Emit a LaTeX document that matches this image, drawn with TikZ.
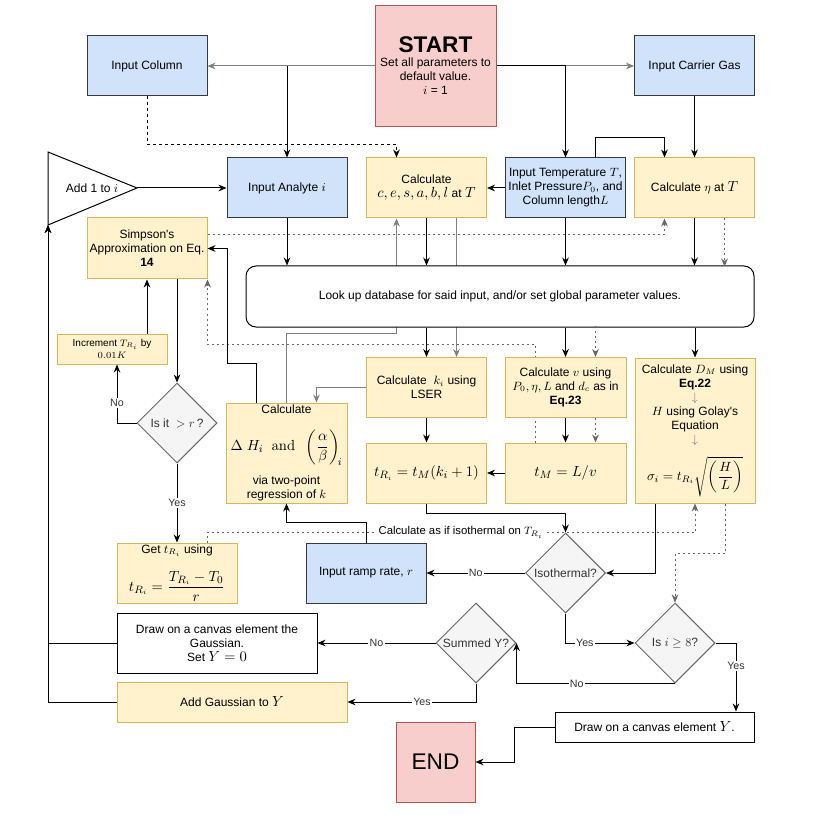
\documentclass[tikz,border=0pt]{standalone}
\usepackage[no-math]{fontspec}
\setmainfont{Liberation Sans}
\usepackage{amsmath}
\usepackage{xcolor}
\definecolor{startFill}{HTML}{F8CECC}
\definecolor{startLine}{HTML}{B85450}
\definecolor{inputFill}{HTML}{D0E3FA}
\definecolor{inputLine}{HTML}{36393D}
\definecolor{calcFill}{HTML}{FFF2CC}
\definecolor{calcLine}{HTML}{D6B656}
\definecolor{checkFill}{HTML}{F5F5F5}
\definecolor{checkLine}{HTML}{666666}
\definecolor{checkText}{HTML}{333333}
\definecolor{lineGray}{HTML}{808080}
\usetikzlibrary{%
    shapes.geometric,
    arrows.meta,
    positioning,
    backgrounds,
    calc
}
\newcommand{\bigmath}[1]{{\fontsize{11}{13}\selectfont$#1$}}

\begin{document}
\begin{tikzpicture}[x=0.75pt, y=-0.75pt,
                font=\fontsize{9}{10.5}\selectfont,
                stage/.style={rectangle, minimum width=90pt, minimum height=45pt, inner sep=1pt, align=center, line width=0.75pt, draw},
                terminal/.style={stage, fill=startFill, draw=startLine},
                entry/.style={stage, fill=inputFill, draw=inputLine},
                compute/.style={stage, fill=calcFill, draw=calcLine},
                canvas/.style={stage, fill=white, draw=black},
                check/.style={diamond, aspect=1, minimum width=60pt, minimum height=60pt, inner sep=0pt, fill=checkFill, draw=checkLine, text=checkText, line width=0.75pt},
                flow/.style={draw, line width=0.75pt, -{Stealth[length=6pt, width=5pt]}},
                gray_flow/.style={flow, draw=lineGray},
                dotted_flow/.style={flow, draw=checkLine, dash pattern=on 1.5pt off 2.25pt},
                dashed_flow/.style={flow, dash pattern=on 2.25pt off 2.25pt},
                answer/.style={fill=white, inner sep=1pt, text=checkText, font=\fontsize{8}{9}\selectfont}
            ]

            \begin{scope}[on background layer]
                \fill[white] (0,0) rectangle (834,816);
            \end{scope}
            \useasboundingbox (0,0) rectangle (834,816);

            \node (start) at (435.5,66) [terminal, minimum width=90.75pt, minimum height=90.75pt] {{\fontsize{17}{21}\selectfont\bfseries START}\\ Set all parameters to\\ default value.\\ $i$ = 1};
            \node (incol) at (147,66) [entry] {Input Column};
            \node (carrier) at (694.5,66) [entry] {Input Carrier Gas};

            \draw[line width=0.75pt, fill=white] (48,152) -- (137,188) -- (48,225) -- cycle;
            \node (add1) at (92,188) {Add 1 to $i$};
            \coordinate (add1tip) at (137,188);
            \coordinate (add1base) at (48,225);

            \node (analyte) at (287,188) [entry] {Input Analyte $i$};
            \node (calcabc) at (426.5,188) [compute] {Calculate\\ \bigmath{c,e,s,a,b,l} at \bigmath{T}};
            \node (inptemp) at (565.5,188) [entry] {Input Temperature $T$,\\ Inlet Pressure$P_0$, and\\ Column length$L$};
            \node (calceta) at (694.5,188) [compute] {Calculate $\eta$ at \bigmath{T}};

            \node (simpson) at (147,248.5) [compute, minimum height=45.75pt] {Simpson\textquotesingle s\\ Approximation on Eq.\\ \textbf{14}};
            \node (lookup) at (500,296.5) [canvas, minimum width=381pt, minimum height=45.75pt, rounded corners=7.5pt] {Look up database for said input, and/or set global parameter values.};
            \node (incr) at (112,349) [compute, minimum width=82.5pt, minimum height=22.5pt, font=\fontsize{7.5}{9.5}\selectfont] {Increment $T_{R_i}$ by\\ $0.01K$};
            \node (isit) at (177,423) [check] {Is it $\ >r\,$?};

            \node (calcdh) at (286.5,453) [compute, minimum width=90.75pt, minimum height=75pt] {Calculate\\[11pt] \bigmath{\Delta\ H_i\ \ \mathrm{and}\ \ \left(\dfrac{\alpha}{\beta}\right)_{\!i}}\\[7pt] via two-point\\ regression of $k$};
            \node (calck) at (426.5,387.5) [compute] {Calculate \ $k_i$ using\\ LSER};
            \node (calcv) at (565.5,387.5) [compute, minimum width=90.75pt] {Calculate $v$ using\\ $P_0,\eta,L$ and $d_c$ as in\\ \textbf{Eq.23}};
            \node (calcdm) at (695,430.5) [compute, minimum height=108.75pt] {Calculate $D_M$ using\\ \textbf{Eq.22}\\ \textcolor{lineGray}{$\downarrow$}\\ $H$ using Golay\textquotesingle s\\ Equation\\ \textcolor{lineGray}{$\downarrow$}\\[7pt] {\fontsize{10}{12}\selectfont$\sigma_i = t_{R_i}\sqrt{\left(\dfrac{H}{L}\right)}$}};
            \node (tri) at (426.5,473) [compute] {\bigmath{t_{R_i} = t_M(k_i+1)}};
            \node (tm) at (565.5,473) [compute, minimum width=90.75pt] {\bigmath{t_M = L/v}};

            \node (gettr) at (177,573) [compute] {Get $t_{R_i}$ using\\[10pt] \bigmath{t_{R_i} = \dfrac{T_{R_i}-T_0}{r}}};
            \node (ramp) at (366,573) [entry] {Input ramp rate, $r$};
            \node (isoth) at (565.5,573) [check] {Isothermal?};

            \node (summed) at (476,643) [check] {Summed Y?};
            \node (iseight) at (675,643) [check] {Is $i\geq 8$?};
            \node (drawgauss) at (217,643) [canvas, minimum width=150pt] {Draw on a canvas element the\\ Gaussian.\\ Set \bigmath{Y=0}};
            \node (addgauss) at (232,702) [compute, minimum width=172.5pt, minimum height=30pt] {Add Gaussian to \bigmath{Y}};
            \node (endn) at (435.5,762) [terminal, minimum width=59.25pt, minimum height=60pt] {\fontsize{17}{21}\selectfont END};
            \node (drawy) at (654.5,727) [canvas, minimum width=149.25pt, minimum height=22.5pt] {Draw on a canvas element \bigmath{Y}.};

            \draw[flow] (start.west) -| (analyte.north);
            \draw[gray_flow] (start.west) -- (incol.east);
            \draw[gray_flow] (start.east) -- (carrier.west);
            \draw[flow] (start.east) -| (inptemp.north);
            \draw[dashed_flow] (incol.south) -- ++(0,48) -| ($(calcabc.north)+(-30,0)$);
            \draw[flow] (add1tip) -- (analyte.west);
            \draw[flow] (inptemp.west) -- (calcabc.east);
            \draw[flow] ($(inptemp.north)+(30,0)$) -- ++(0,-20) -| ($(calceta.north)+(-30,0)$);
            \draw[flow] (carrier.south) -- (calceta.north);

            \draw[flow] (analyte.south) -- (analyte.south |- lookup.north);
            \draw[flow] (calcabc.south) -- (calcabc.south |- lookup.north);
            \draw[flow] (inptemp.south) -- (inptemp.south |- lookup.north);
            \draw[flow] (calceta.south) -- (calceta.south |- lookup.north);
            \draw[dotted_flow] ($(calceta.south)+(30,0)$) -- ($(calceta.south)+(30,48)$);
            \draw[dotted_flow] ($(simpson.east)+(0,-14)$) -| ($(calceta.south)+(-30,0)$);

            \begin{scope}[on background layer]
                \draw[gray_flow] (calcdh.north) -- ++(0,-69) -| ($(calcabc.south)+(-30,0)$);
                \draw[gray_flow] ($(calcabc.south)+(30,0)$) -- ($(calck.north)+(30,0)$);
                \draw[dotted_flow] ($(tm.north)+(-30,0)$) |- ($(simpson.south east)+(0,65)$) -- (simpson.south east);
            \end{scope}

            \draw[flow] (lookup.south -| calck.north) -- (calck.north);
            \draw[flow] (lookup.south -| calcv.north) -- (calcv.north);
            \draw[dotted_flow] ($(calcv.north)+(30,-31)$) -- ($(calcv.north)+(30,0)$);
            \draw[flow] (lookup.south -| calcdm.north) -- (calcdm.north);

            \draw[flow] (calcv.south) -- (tm.north);
            \draw[dotted_flow] ($(calcv.south)+(30,0)$) -- ($(tm.north)+(30,0)$);
            \draw[flow] (tm.west) -- (tri.east);
            \draw[flow] (calck.south) -- (tri.north);
            \draw[gray_flow] (calck.west) -| ($(calcdh.north)+(30,0)$);
            \draw[flow] ($(calcdh.north)+(-30,0)$) -- ++(0,-39) -- ++(-29.5,0) |- (simpson.east);

            \draw[flow] ($(simpson.south)+(30,0)$) -- (isit.north);
            \draw[flow] (isit.west) -| node[answer, pos=0.67] {No} ($(incr.south)+(5,0)$);
            \draw[flow] ($(incr.north)+(35,0)$) -- (simpson.south);
            \draw[flow] (isit.south) -- node[answer] {Yes} (gettr.north);

            \draw[dotted_flow] ($(gettr.north)+(30,0)$) -- ++(0,-10) -| node[answer, pos=0.26, font=\fontsize{8.5}{10}\selectfont, text=black] {Calculate as if isothermal on $T_{R_i}$} (calcdm.south);
            \draw[flow] (ramp.north) -- ++(0,-20) -| (calcdh.south);
            \draw[flow] (tri.south) -- ++(0,10) -| (isoth.north);
            \draw[flow] ($(calcdm.south)+(-40,0)$) |- (isoth.east);
            \draw[flow] (isoth.west) -- node[answer] {No} (ramp.east);
            \draw[flow] (isoth.south) |- node[answer, pos=0.64] {Yes} (iseight.west);
            \draw[dotted_flow] ($(calcdm.south)+(30,0)$) -- ++(0,50) -| (iseight.north);

            \draw[flow] (iseight.east) -| node[answer, pos=0.67] {Yes} ($(drawy.north)+(81.5,0)$);
            \draw[flow] (iseight.south) -| node[answer, pos=0.31] {No} (summed.east);
            \draw[flow] (summed.west) -- node[answer] {No} (drawgauss.east);
            \draw[flow] (summed.south) |- node[answer, pos=0.71] {Yes} (addgauss.east);
            \draw[flow] (drawgauss.west) -| (add1base);
            \draw[flow] (addgauss.west) -| (add1base);
            \draw[flow] (drawy.west) -- ++(-40,0) |- (endn.east);
        \end{tikzpicture}
\end{document}
